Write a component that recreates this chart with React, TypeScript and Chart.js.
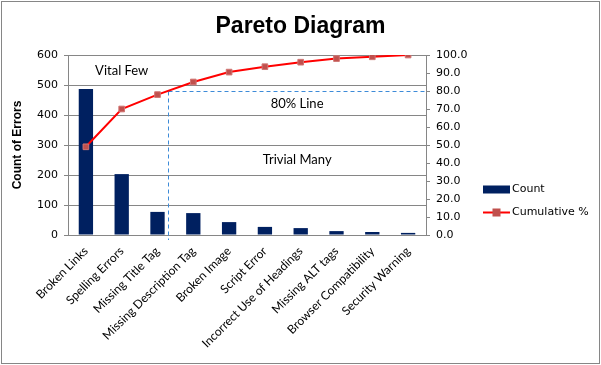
import React, { useEffect, useRef } from "react";
import { Chart, registerables } from "chart.js";

Chart.register(...registerables);

const categories = [
  "Broken Links",
  "Spelling Errors",
  "Missing Title Tag",
  "Missing Description Tag",
  "Broken Image",
  "Script Error",
  "Incorrect Use of Headings",
  "Missing ALT tags",
  "Browser Compatibility",
  "Security Warning",
];
const counts = [487, 203, 77, 73, 43, 27, 23, 13, 10, 7];
const cumulativePct = [49, 70, 78, 85, 90.5, 93.5, 96, 98, 99, 100];

const countMax = 600;
const countStep = 100;
const pctMax = 100;
const pctStep = 10;

const thresholdPct = 80;
const thresholdCategory = 2.3;

const noteTexts = ["Vital Few", "80% Line", "Trivial Many"];
const noteCategory = [1.0, 5.9, 5.9];
const notePct = [91, 72.8, 41.7];

const legendLabels = ["Count", "Cumulative %"];

const BAR = "#002060";
const LINE = "#FF0000";
const MARK = "#C0504D";
const GRID = "#868686";
const DASH = "#3D8BD8";
const TICK_FONT = "DejaVu Sans";
const CAL_FONT = "Lato";

const overlay = {
  id: "paretoOverlay",
  beforeDraw(chart: any) {
    const ctx = chart.ctx;
    ctx.save();
    ctx.fillStyle = "#ffffff";
    ctx.fillRect(0, 0, chart.width, chart.height);
    ctx.restore();
  },
  beforeDatasetsDraw(chart: any) {
    const { ctx, chartArea, scales } = chart;
    const xs = scales.x;
    const y2 = scales.y2;
    const x0 = xs.getPixelForValue(0);
    const x1 = xs.getPixelForValue(1);
    const step = x1 - x0;
    const vx = Math.round(x0 + step * thresholdCategory) + 0.5;
    const hy = Math.round(y2.getPixelForValue(thresholdPct)) + 0.5;
    ctx.save();
    ctx.strokeStyle = DASH;
    ctx.lineWidth = 1;
    ctx.setLineDash([4, 3]);
    ctx.beginPath();
    ctx.moveTo(vx, hy);
    ctx.lineTo(chartArea.right, hy);
    ctx.moveTo(vx, hy);
    ctx.lineTo(vx, chartArea.bottom + 5);
    ctx.stroke();
    ctx.restore();
  },
  afterDraw(chart: any) {
    const { ctx, scales } = chart;
    const xs = scales.x;
    const y2 = scales.y2;
    const x0 = xs.getPixelForValue(0);
    const step = xs.getPixelForValue(1) - x0;
    ctx.save();
    ctx.fillStyle = "#000";
    ctx.font = `13px ${CAL_FONT}`;
    ctx.textAlign = "center";
    ctx.textBaseline = "middle";
    noteTexts.forEach((t, i) => {
      ctx.fillText(t, x0 + step * noteCategory[i], y2.getPixelForValue(notePct[i]));
    });

    // legend
    const lx = y2.left + 57;
    const ly = 189.5;
    const gap = 23;
    ctx.fillStyle = BAR;
    ctx.fillRect(lx, ly - 4, 27, 8);
    ctx.strokeStyle = LINE;
    ctx.lineWidth = 2;
    ctx.beginPath();
    ctx.moveTo(lx, ly + gap);
    ctx.lineTo(lx + 27, ly + gap);
    ctx.stroke();
    ctx.fillStyle = MARK;
    ctx.fillRect(lx + 13.5 - 4, ly + gap - 4, 8, 8);
    ctx.fillStyle = "#000";
    ctx.font = `11px ${TICK_FONT}`;
    ctx.textAlign = "left";
    ctx.fillText(legendLabels[0], lx + 29, ly);
    ctx.fillText(legendLabels[1], lx + 29, ly + gap);

    // outer frame
    ctx.strokeStyle = GRID;
    ctx.lineWidth = 1;
    ctx.setLineDash([]);
    ctx.strokeRect(1.5, 1.5, chart.width - 3, chart.height - 3);
    ctx.restore();
  },
};

export default function App() {
  const ref = useRef<HTMLCanvasElement | null>(null);

  useEffect(() => {
    if (!ref.current) return;
    Chart.defaults.color = "#000";
    const chart = new Chart(ref.current, {
      type: "bar",
      data: {
        labels: categories,
        datasets: [
          {
            type: "line",
            label: legendLabels[1],
            data: cumulativePct,
            yAxisID: "y2",
            borderColor: LINE,
            borderWidth: 2,
            pointStyle: "rect",
            pointRadius: 4,
            pointBackgroundColor: MARK,
            pointBorderColor: "#D07573",
            pointBorderWidth: 1,
            order: 0,
          } as any,
          {
            type: "bar",
            label: legendLabels[0],
            data: counts,
            yAxisID: "y",
            backgroundColor: BAR,
            barPercentage: 0.4,
            categoryPercentage: 1,
            order: 1,
          } as any,
        ],
      },
      options: {
        animation: false,
        responsive: false,
        maintainAspectRatio: false,
        layout: { padding: 0 },
        plugins: {
          legend: { display: false },
          tooltip: { enabled: false },
          title: {
            display: true,
            text: "Pareto Diagram",
            color: "#000",
            font: { family: "Liberation Sans", size: 23, weight: "bold" },
            padding: { top: 13, bottom: 14.4 },
          },
        },
        scales: {
          x: {
            offset: true,
            grid: { display: false, drawTicks: true, tickLength: 7 },
            border: { display: true, color: GRID, width: 1 },
            ticks: {
              autoSkip: false,
              minRotation: 45,
              maxRotation: 45,
              padding: 2,
              color: "#000",
              font: { family: CAL_FONT, size: 12 },
            },
            afterFit: (s: any) => {
              s.height = 130;
            },
          },
          y: {
            position: "left",
            min: 0,
            max: countMax,
            ticks: {
              stepSize: countStep,
              padding: 6,
              color: "#000",
              font: { family: TICK_FONT, size: 11 },
            },
            grid: { color: GRID, tickLength: 4, lineWidth: 1 },
            border: { display: true, color: GRID, width: 1 },
            title: {
              display: true,
              text: "Count of Errors",
              color: "#000",
              font: { family: "Liberation Sans", size: 12, weight: "bold" },
              padding: { top: 10, bottom: 0 },
            },
            afterFit: (s: any) => {
              s.width = 68;
            },
          },
          y2: {
            position: "right",
            min: 0,
            max: pctMax,
            ticks: {
              stepSize: pctStep,
              padding: 6,
              color: "#000",
              font: { family: TICK_FONT, size: 11 },
              callback: (v: any) => Number(v).toFixed(1),
            },
            grid: { drawOnChartArea: false, color: GRID, tickLength: 4 },
            border: { display: true, color: GRID, width: 1 },
            afterFit: (s: any) => {
              s.width = 175;
            },
          },
        },
      },
      plugins: [overlay],
    });
    return () => chart.destroy();
  }, []);

  return (
    <div style={{ position: "absolute", left: 0, top: 0, width: 601, height: 365 }}>
      <canvas ref={ref} width={601} height={365} />
    </div>
  );
}
